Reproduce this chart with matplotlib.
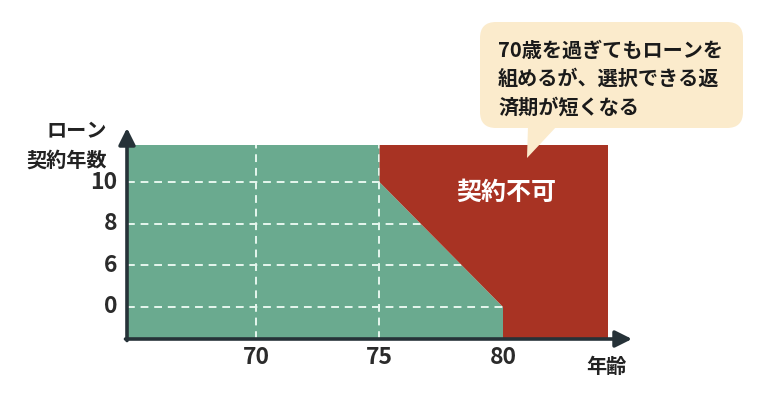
import matplotlib
matplotlib.use("Agg")
import matplotlib.pyplot as plt
from matplotlib.patches import Polygon, FancyBboxPatch

plt.rcParams['font.family'] = ['Noto Sans CJK JP', 'DejaVu Sans']

# ---- data ----
age_ticks = [70, 75, 80]
year_labels = ['0', '6', '8', '10']          # evenly spaced categories
boundary_age = [75, 80]                     # limit line: age where contract years drop
boundary_years = ['10', '0']                # max contract years at those ages
x_label = '年齢'
y_label = 'ローン\n契約年数'
ng_label = '契約不可'
bubble_lines = ['70歳を過ぎてもローンを', '組めるが、選択できる返', '済期が短くなる']

GREEN = '#6aaa8f'
RED = '#a83323'
DARK = '#263238'
BUBBLE = '#fbebcc'

W, H = 775, 398
fig = plt.figure(figsize=(W / 100, H / 100), dpi=100)
fig.patch.set_facecolor('white')

# plot area in pixels: left 127, right 608, bottom 339, top 145
L, R, B, T = 127, 608, 339, 145
ax = fig.add_axes([L / W, (H - B) / H, (R - L) / W, (B - T) / H])
x0, x1 = 64.78, 84.25
y0, y1 = -0.77, 3.89
ax.set_xlim(x0, x1)
ax.set_ylim(y0, y1)
ax.axis('off')

ypos = {lab: i for i, lab in enumerate(year_labels)}
bx = boundary_age
by = [ypos[v] for v in boundary_years]

green_poly = Polygon([(x0, y0), (x0, y1), (bx[0], y1), (bx[0], by[0]),
                      (bx[1], by[1]), (bx[1], y0)], closed=True,
                     fc=GREEN, ec='none', zorder=1)
red_poly = Polygon([(bx[0], y1), (x1, y1), (x1, y0), (bx[1], y0),
                    (bx[1], by[1]), (bx[0], by[0])], closed=True,
                   fc=RED, ec='none', zorder=1)
ax.add_patch(green_poly)
ax.add_patch(red_poly)

# dashed grid clipped to green region
for i in range(len(year_labels)):
    ln, = ax.plot([x0, x1], [i, i], ls=(0, (4, 3)), color='#e6f7ee', lw=1.4, zorder=2)
    ln.set_clip_path(green_poly)
for a in age_ticks[:2]:
    ln, = ax.plot([a, a], [y0, y1], ls=(0, (4, 3)), color='#e6f7ee', lw=1.4, zorder=2)
    ln.set_clip_path(green_poly)

px_x = (x1 - x0) / (R - L)
px_y = (y1 - y0) / (B - T)

ax.text(x0 + (506 - L) * px_x, 2.75, ng_label,
        color='white', fontsize=18, fontweight='bold', ha='center', va='center', zorder=3)

# axes with arrows
xtip = x0 + (632 - L) * px_x
ytip = y1 + (T - 128) * px_y
ax.annotate('', xy=(xtip, y0), xytext=(x0 - 1.5 * px_x, y0),
            arrowprops=dict(arrowstyle='-|>,head_length=1.0,head_width=0.5',
                            color=DARK, lw=2.6, shrinkA=0, shrinkB=0),
            annotation_clip=False, zorder=5)
ax.annotate('', xy=(x0, ytip), xytext=(x0, y0 - 1.5 * px_y),
            arrowprops=dict(arrowstyle='-|>,head_length=1.0,head_width=0.5',
                            color=DARK, lw=2.6, shrinkA=0, shrinkB=0),
            annotation_clip=False, zorder=5)

# tick labels
for a in age_ticks:
    ax.text(a, y0 - 19 * px_y, str(a), fontsize=16.5, fontweight='bold', color='#2b2b2b',
            ha='center', va='center', clip_on=False)
for i, lab in enumerate(year_labels):
    ax.text(x0 - 10 * px_x, i, lab, fontsize=16.5, fontweight='bold', color='#2b2b2b',
            ha='right', va='center', clip_on=False)

# overlay in pixel coords
ov = fig.add_axes([0, 0, 1, 1])
ov.set_xlim(0, W)
ov.set_ylim(H, 0)
ov.axis('off')
ov.patch.set_alpha(0)

yl = y_label.split('\n')
ov.text(107, 131, yl[0], fontsize=14.5, fontweight='bold', color='#222222', ha='right', va='center')
ov.text(107, 160, yl[1], fontsize=14.5, fontweight='bold', color='#222222', ha='right', va='center')
ov.text(606, 366, x_label, fontsize=14.5, fontweight='bold', color='#222222', ha='center', va='center')

ov.add_patch(FancyBboxPatch((480, 22), 263, 106, boxstyle='round,pad=0,rounding_size=16',
                            fc=BUBBLE, ec='none', zorder=4))
ov.add_patch(Polygon([(528, 126), (557, 126), (527, 158)], closed=True,
                     fc=BUBBLE, ec='none', zorder=4))
for k, line in enumerate(bubble_lines):
    ov.text(498, 50 + 28.5 * k, line, fontsize=14.5, fontweight='bold', color='#1a1a1a',
            ha='left', va='center', zorder=5)

fig.savefig('out.png', dpi=100, facecolor='white')
